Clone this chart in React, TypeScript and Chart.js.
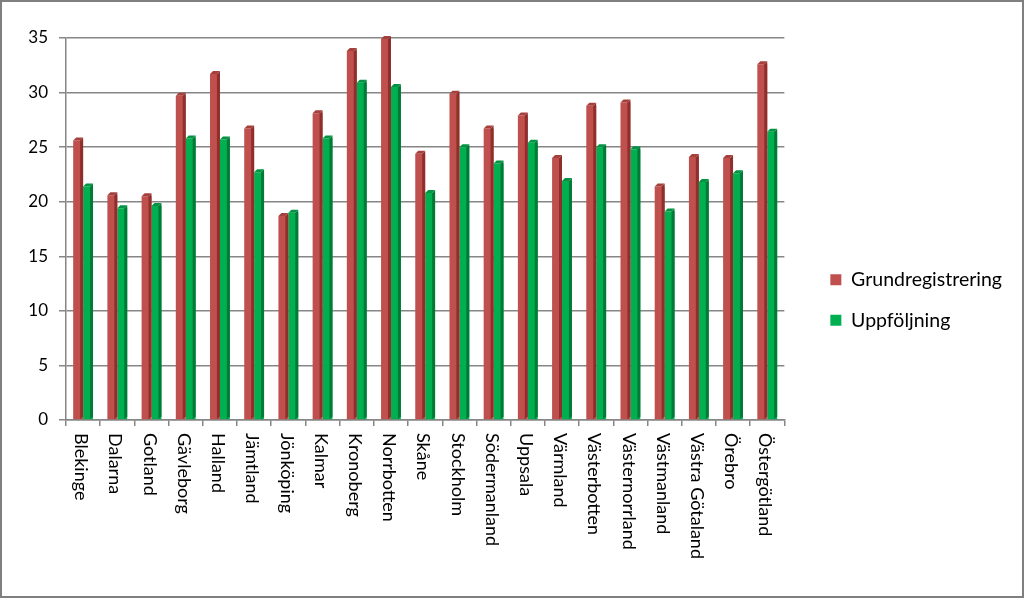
import React, { useEffect, useRef } from "react";
import { Chart, registerables } from "chart.js";

Chart.register(...registerables);

const categories = [
  "Blekinge", "Dalarna", "Gotland", "Gävleborg", "Halland", "Jämtland", "Jönköping",
  "Kalmar", "Kronoberg", "Norrbotten", "Skåne", "Stockholm", "Södermanland", "Uppsala",
  "Värmland", "Västerbotten", "Västernorrland", "Västmanland", "Västra Götaland", "Örebro",
  "Östergötland",
];
const grundregistrering = [
  25.6, 20.6, 20.5, 29.7, 31.7, 26.7, 18.7, 28.1, 33.8, 34.9, 24.4, 29.9, 26.7, 27.9,
  24.0, 28.8, 29.1, 21.4, 24.1, 24.0, 32.6,
];
const uppfoljning = [
  21.4, 19.4, 19.6, 25.8, 25.7, 22.7, 19.0, 25.8, 30.9, 30.5, 20.8, 25.0, 23.5, 25.4,
  21.9, 25.0, 24.8, 19.1, 21.8, 22.6, 26.4,
];
const seriesNames = ["Grundregistrering", "Uppföljning"];
const yMin = 0;
const yMax = 35;
const yStep = 5;

const FONT = "Lato, 'Open Sans', sans-serif";
const RED = "#C0504D";
const GREEN = "#00B050";
const SIDE = ["#8E2F2C", "#007A36"];
const TOP = ["#A5403D", "#009443"];
const LEGEND_GAP = 25;

const bar3dPlugin = {
  id: "bar3d",
  afterDatasetsDraw(chart: any) {
    const ctx = chart.ctx;
    const d = 3;
    chart.data.datasets.forEach((_ds: any, di: number) => {
      const meta = chart.getDatasetMeta(di);
      meta.data.forEach((el: any) => {
        const p = el.getProps(["x", "y", "base", "width"], true);
        const left = p.x - p.width / 2;
        const right = p.x + p.width / 2;
        ctx.save();
        ctx.fillStyle = SIDE[di];
        ctx.beginPath();
        ctx.moveTo(right - d, p.y);
        ctx.lineTo(right, p.y - d);
        ctx.lineTo(right, p.base - d);
        ctx.lineTo(right - d, p.base);
        ctx.closePath();
        ctx.fill();
        ctx.fillStyle = TOP[di];
        ctx.beginPath();
        ctx.moveTo(left, p.y);
        ctx.lineTo(left + d, p.y - d);
        ctx.lineTo(right, p.y - d);
        ctx.lineTo(right - d, p.y);
        ctx.closePath();
        ctx.fill();
        ctx.restore();
      });
    });
  },
};

const xLabelPlugin = {
  id: "xLabels",
  afterDraw(chart: any) {
    const ctx = chart.ctx;
    const xs = chart.scales.x;
    ctx.save();
    ctx.font = `18px ${FONT}`;
    ctx.fillStyle = "#000";
    ctx.textAlign = "left";
    ctx.textBaseline = "middle";
    categories.forEach((label, i) => {
      const px = xs.getPixelForValue(i);
      ctx.save();
      ctx.translate(px - 2, xs.top + 13);
      ctx.rotate(Math.PI / 2);
      ctx.fillText(label, 0, 0);
      ctx.restore();
    });
    ctx.restore();
  },
};

// Leaves a gap between the plot area and the legend (legend drawn shifted right).
const legendGapPlugin = {
  id: "legendGap",
  beforeLayout(chart: any) {
    const lg = chart.legend;
    if (lg && !lg.__gapPatched) {
      const origFit = lg.fit.bind(lg);
      lg.fit = function () {
        origFit();
        this.width += LEGEND_GAP;
      };
      const origDraw = lg.draw.bind(lg);
      lg.draw = function () {
        const l = this.left;
        this.left = l + LEGEND_GAP;
        origDraw();
        this.left = l;
      };
      lg.__gapPatched = true;
    }
  },
};

export default function App() {
  const canvasRef = useRef<HTMLCanvasElement | null>(null);

  useEffect(() => {
    document.body.style.margin = "0";
    const canvas = canvasRef.current;
    if (!canvas) return;
    const chart = new Chart(canvas, {
      type: "bar",
      data: {
        labels: categories,
        datasets: [
          {
            label: seriesNames[0],
            data: grundregistrering,
            backgroundColor: RED,
            categoryPercentage: 0.58,
            barPercentage: 1,
          },
          {
            label: seriesNames[1],
            data: uppfoljning,
            backgroundColor: GREEN,
            categoryPercentage: 0.58,
            barPercentage: 1,
          },
        ],
      },
      options: {
        animation: false,
        responsive: false,
        maintainAspectRatio: false,
        layout: { padding: { top: 36, right: 10, bottom: 34, left: 0 } },
        plugins: {
          legend: {
            position: "right",
            labels: {
              boxWidth: 11,
              boxHeight: 11,
              padding: 21,
              color: "#000",
              font: { family: FONT, size: 19.5 },
            },
          },
          tooltip: { enabled: false },
        },
        scales: {
          x: {
            offset: true,
            ticks: { display: false },
            grid: {
              offset: true,
              drawOnChartArea: false,
              drawTicks: true,
              tickLength: 6,
              color: "#868686",
              lineWidth: 1.5,
            },
            border: { color: "#868686", width: 1.5 },
            afterFit(scale: any) {
              scale.height = 142;
            },
          },
          y: {
            min: yMin,
            max: yMax,
            ticks: {
              stepSize: yStep,
              padding: 11,
              color: "#000",
              font: { family: FONT, size: 17 },
            },
            grid: {
              color: "#868686",
              lineWidth: 1.5,
              tickLength: 7,
            },
            border: { color: "#868686", width: 1.5 },
            afterFit(scale: any) {
              scale.width = 64;
            },
          },
        },
      },
      plugins: [legendGapPlugin, bar3dPlugin, xLabelPlugin],
    });
    return () => chart.destroy();
  }, []);

  return (
    <div
      style={{
        position: "relative",
        width: 1024,
        height: 598,
        border: "2px solid #7F7F7F",
        boxSizing: "border-box",
        background: "#fff",
      }}
    >
      <canvas ref={canvasRef} width={1020} height={594} style={{ display: "block" }} />
    </div>
  );
}
